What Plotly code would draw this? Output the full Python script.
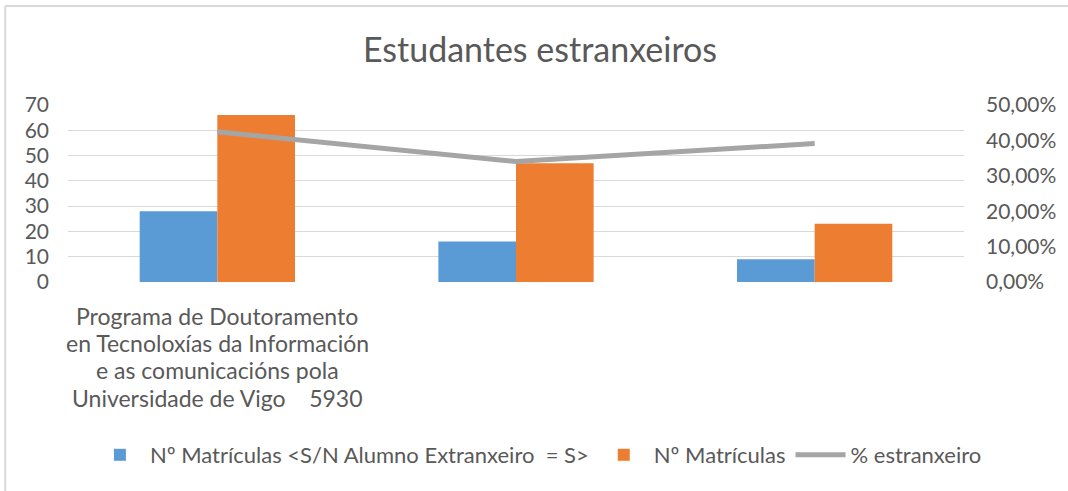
import plotly.graph_objects as go

category_lines = ["Programa de Doutoramento", "en Tecnoloxías da Información",
                  "e as comunicacións pola", "Universidade de Vigo    5930"]
cat_pos = [0, 1, 2]
extranjeros = [28, 16, 9]
matriculas = [66, 47, 23]
pct_extranjero = [0.4242, 0.3404, 0.3913]
left_ticks = [0, 10, 20, 30, 40, 50, 60, 70]
right_ticks = [0, 0.1, 0.2, 0.3, 0.4, 0.5]

FONT = "Lato"
TXT = "#595959"

fig = go.Figure()
fig.add_trace(go.Bar(x=cat_pos, y=extranjeros, name="Nº Matrículas <S/N Alumno Extranxeiro  = S>",
                     marker=dict(color="#5B9BD5", line=dict(width=0))))
fig.add_trace(go.Bar(x=cat_pos, y=matriculas, name="Nº Matrículas",
                     marker=dict(color="#ED7D31", line=dict(width=0))))
fig.add_trace(go.Scatter(x=cat_pos, y=pct_extranjero, name="% estranxeiro", yaxis="y2",
                         mode="lines", line=dict(color="#A5A5A5", width=5)))

W, H = 1068, 491
L, R, T = 68, 101, 105
PLOT_BOTTOM = 282
B = H - PLOT_BOTTOM
pw = W - L - R
ph = H - T - B

def px_x(px):
    return (px - L) / pw

def px_y(py):
    return (H - B - py) / ph

fig.update_layout(
    width=W, height=H,
    margin=dict(l=L, r=R, t=T, b=B),
    paper_bgcolor="white", plot_bgcolor="white",
    separators=", ",
    font=dict(family=FONT, color=TXT, size=21),
    title=dict(text="Estudantes estranxeiros", x=540 / W, xanchor="center", y=1 - 50 / H, yanchor="middle",
               yref="container", font=dict(size=34, color=TXT, family=FONT)),
    barmode="group", bargap=0.48, bargroupgap=0,
    xaxis=dict(range=[-0.5, 2.5], tickmode="array", tickvals=cat_pos, ticktext=["", "", ""],
               showgrid=False, zeroline=False, showline=False, ticks=""),
    yaxis=dict(range=[0, 70], tickmode="array", tickvals=left_ticks, showgrid=True, gridcolor="#D9D9D9",
               gridwidth=1, zeroline=False, showline=False, ticks="", ticklabelstandoff=18,
               tickfont=dict(size=21, color=TXT)),
    yaxis2=dict(range=[0, 0.5], overlaying="y", side="right", tickmode="array", tickvals=right_ticks,
                tickformat=".2%", showgrid=False, zeroline=False, showline=False, ticks="",
                ticklabelstandoff=21, tickfont=dict(size=21, color=TXT)),
    legend=dict(orientation="h", x=px_x(540), xanchor="center", y=px_y(455), yanchor="middle",
                font=dict(size=22, color=TXT), itemwidth=50, traceorder="normal"),
    showlegend=True,
)

# category label, line by line (Excel-like line spacing)
line_y = [316, 343, 370, 398]
for txt, yy in zip(category_lines, line_y):
    fig.add_annotation(x=cat_pos[0], xref="x", y=px_y(yy), yref="paper", text=txt, showarrow=False,
                       xanchor="center", yanchor="middle", font=dict(size=23, color=TXT, family=FONT))

fig.add_shape(type="line", xref="paper", yref="paper", x0=px_x(5), x1=px_x(W + 5), y0=px_y(6), y1=px_y(6),
              line=dict(color="#D9D9D9", width=2))
fig.add_shape(type="line", xref="paper", yref="paper", x0=px_x(5), x1=px_x(5), y0=px_y(6), y1=px_y(H + 5),
              line=dict(color="#D9D9D9", width=2))

fig.write_html("out.html", config={"displayModeBar": False},
               post_script="document.body.style.margin='0';document.body.style.overflow='hidden';"
                           "document.documentElement.style.overflow='hidden';")
